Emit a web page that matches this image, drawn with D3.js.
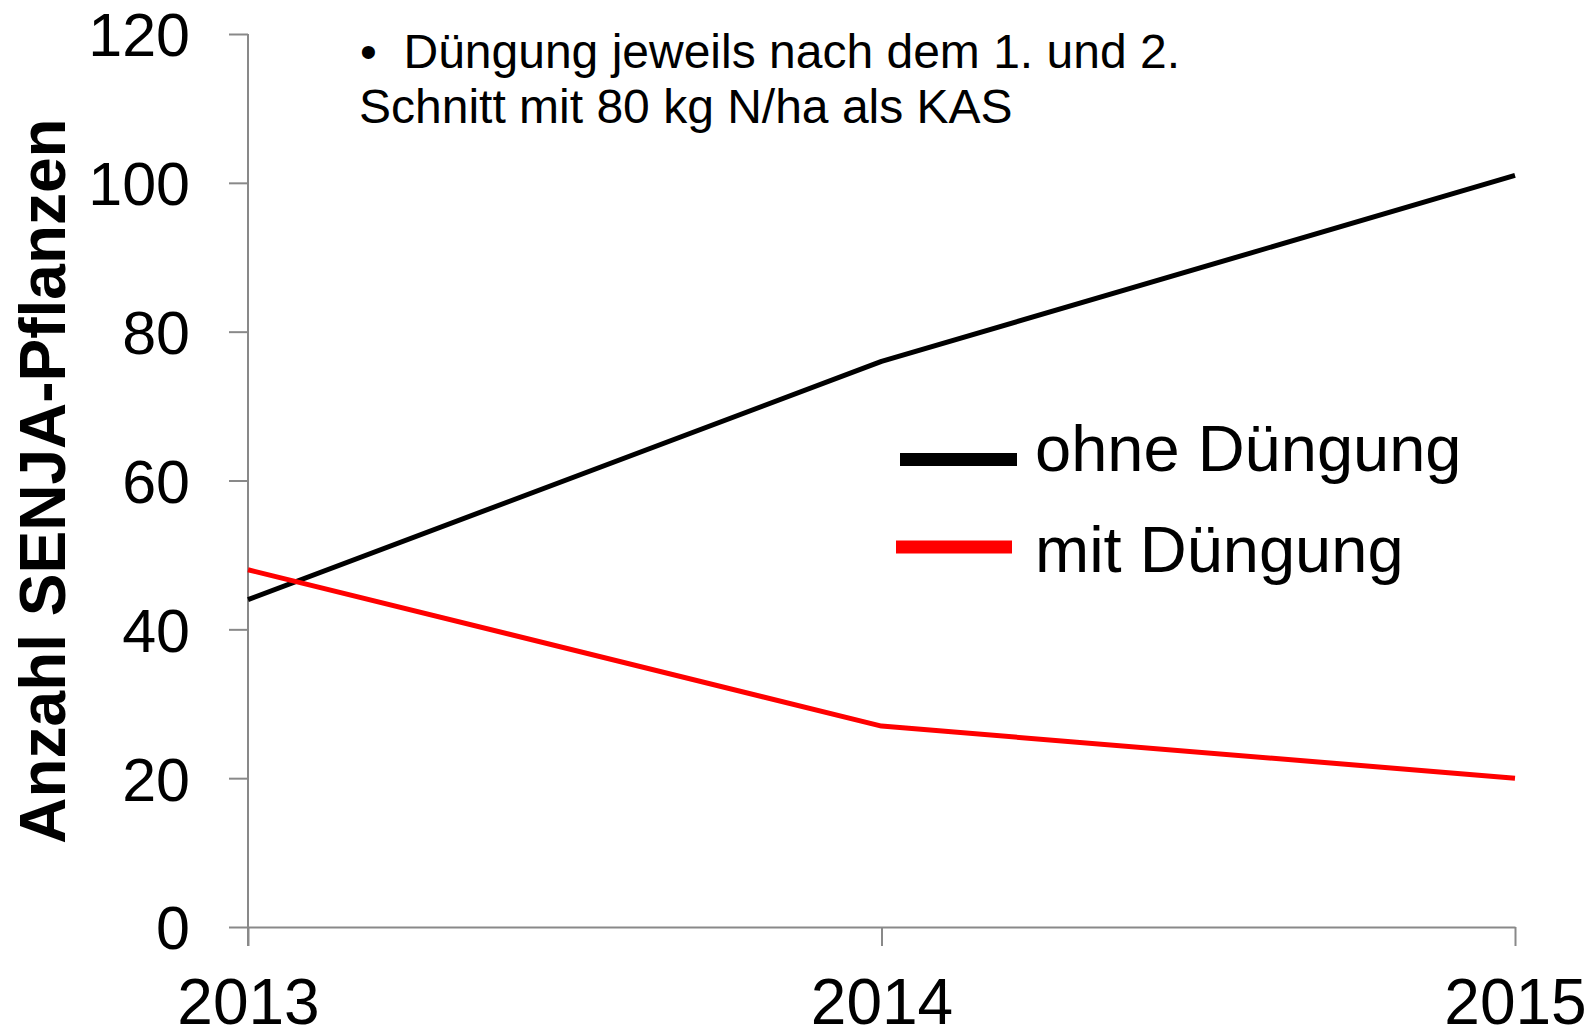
<!DOCTYPE html>
<html lang="de">
<head>
  <meta charset="UTF-8">
  <title>SENJA-Pflanzen</title>
  <style>
    body { margin: 0; background: #fff; }
    svg { display: block; font-family: "Liberation Sans", Arial, sans-serif; }
  </style>
</head>
<body>
  <div id="chart"></div>
  <script src="https://d3js.org/d3.v7.min.js"></script>
  <script>
    // data
    var years = ['2013', '2014', '2015']
    var ohneDuengung = [44, 76, 101]
    var mitDuengung = [48, 27, 20]
    var seriesNames = ['ohne Düngung', 'mit Düngung']
    var seriesColors = ['#000000', '#ff0000']
    var yTicks = [0, 20, 40, 60, 80, 100, 120]
    var yTitle = 'Anzahl SENJA-Pflanzen'
    var noteLines = ['•  Düngung jeweils nach dem 1. und 2.', 'Schnitt mit 80 kg N/ha als KAS']

    var width = 1594, height = 1028
    var svg = d3.select('#chart').append('svg')
      .attr('width', width)
      .attr('height', height)

    var x = d3.scalePoint().domain(years).range([248, 1515])
    var y = d3.scaleLinear().domain([0, 120]).range([927, 34])

    var axisColor = '#898989'

    // y axis
    var yAxis = svg.append('g')
      .attr('transform', 'translate(248,0)')
      .call(d3.axisLeft(y).tickValues(yTicks).tickSize(19).tickPadding(39))
    yAxis.select('.domain').remove()
    yAxis.append('line')
      .attr('x1', 0).attr('x2', 0)
      .attr('y1', y(120)).attr('y2', y(0) + 19)
      .attr('stroke', axisColor).attr('stroke-width', 2)
    yAxis.selectAll('.tick line').attr('stroke', axisColor).attr('stroke-width', 2)
    yAxis.selectAll('.tick text')
      .attr('fill', '#000')
      .style('font-size', '61px')
      .attr('dy', '0.36em')

    // x axis
    var xAxis = svg.append('g')
      .attr('transform', 'translate(0,' + y(0) + ')')
      .call(d3.axisBottom(x).tickSize(19).tickPadding(33).tickSizeOuter(0))
    xAxis.select('.domain').attr('stroke', axisColor).attr('stroke-width', 2)
    xAxis.selectAll('.tick line').attr('stroke', axisColor).attr('stroke-width', 2)
    xAxis.selectAll('.tick text')
      .attr('fill', '#000')
      .style('font-size', '64px')

    // y title
    svg.append('text')
      .attr('transform', 'translate(65,481) rotate(-90)')
      .attr('text-anchor', 'middle')
      .style('font-size', '64px')
      .style('font-weight', 'bold')
      .text(yTitle)

    // lines
    var series = [ohneDuengung, mitDuengung]
    var line = d3.line()
      .x(function (d, i) { return x(years[i]) })
      .y(function (d) { return y(d) })
    svg.selectAll('path.series')
      .data(series)
      .enter()
      .append('path')
      .attr('class', 'series')
      .attr('d', line)
      .attr('fill', 'none')
      .attr('stroke', function (d, i) { return seriesColors[i] })
      .attr('stroke-width', 5)
      .attr('stroke-linejoin', 'round')

    // legend
    var legendLineY = [459.5, 547]
    var legendTextY = [471, 572]
    var legend = svg.append('g')
    legend.selectAll('line')
      .data(seriesNames)
      .enter()
      .append('line')
      .attr('x1', function (d, i) { return i === 0 ? 900 : 896 })
      .attr('x2', function (d, i) { return i === 0 ? 1017 : 1012 })
      .attr('y1', function (d, i) { return legendLineY[i] })
      .attr('y2', function (d, i) { return legendLineY[i] })
      .attr('stroke', function (d, i) { return seriesColors[i] })
      .attr('stroke-width', 13)
    legend.selectAll('text')
      .data(seriesNames)
      .enter()
      .append('text')
      .attr('x', 1035)
      .attr('y', function (d, i) { return legendTextY[i] })
      .style('font-size', '65px')
      .text(function (d) { return d })

    // note
    svg.append('g')
      .selectAll('text')
      .data(noteLines)
      .enter()
      .append('text')
      .attr('x', function (d, i) { return i === 0 ? 360 : 359 })
      .attr('y', function (d, i) { return 68 + i * 55 })
      .style('font-size', '48px')
      .style('white-space', 'pre')
      .attr('xml:space', 'preserve')
      .text(function (d) { return d })
  </script>
</body>
</html>
